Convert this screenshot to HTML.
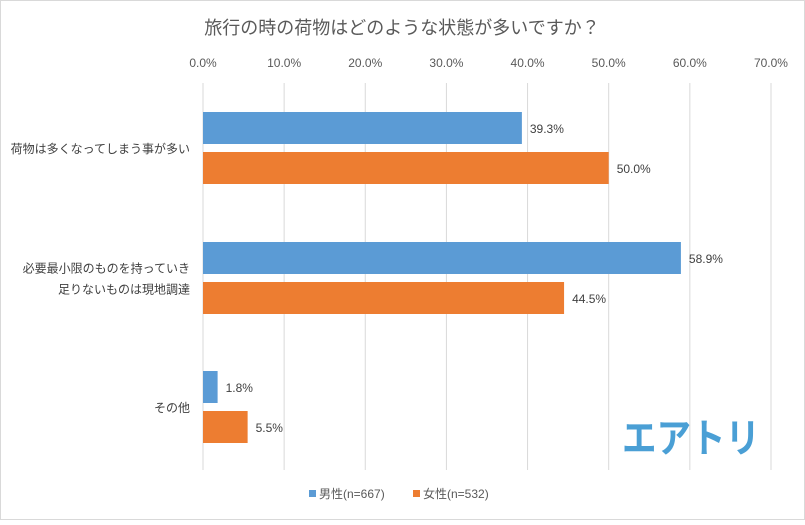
<!DOCTYPE html>
<html><head><meta charset="utf-8"><style>
body{margin:0;background:#fff}
#c{width:805px;height:520px;position:relative;font-family:"Liberation Sans","Noto Sans CJK JP",sans-serif;}
</style></head><body>
<div id="c">
<svg width="805" height="520" id="svg">
<rect x="0.5" y="0.5" width="804" height="519" fill="#fff" stroke="#d9d9d9"/>
<text x="402" y="34" text-anchor="middle" font-size="18" fill="#595959" font-family="Liberation Sans, Noto Sans CJK JP, sans-serif">旅行の時の荷物はどのような状態が多いですか？</text>
<g id="grid"></g><g id="bars"></g>
<text x="622" y="452" font-size="40" font-weight="bold" fill="#4a9fd5" font-family="Noto Sans CJK JP, sans-serif" textLength="138" lengthAdjust="spacingAndGlyphs">エアトリ</text>
<rect x="309" y="490" width="7" height="7" fill="#5b9bd5"/>
<text x="319" y="498" font-size="12" fill="#595959">男性(n=667)</text>
<rect x="413" y="490" width="7" height="7" fill="#ed7d31"/>
<text x="423" y="498" font-size="12" fill="#595959">女性(n=532)</text>
</svg>
</div>
<script>
const categories=[["荷物は多くなってしまう事が多い"],["必要最小限のものを持っていき","足りないものは現地調達"],["その他"]];
const male=[39.3,58.9,1.8];
const female=[50.0,44.5,5.5];
const ticks=[0,10,20,30,40,50,60,70];
const NS="http://www.w3.org/2000/svg";
const x0=203,pxPer=81.14;
const xs=v=>x0+v*pxPer/10;
const grid=document.getElementById('grid'),bars=document.getElementById('bars');
function mk(tag,at,parent,txt){const e=document.createElementNS(NS,tag);for(const k in at)e.setAttribute(k,at[k]);if(txt!=null)e.textContent=txt;parent.appendChild(e);return e;}
ticks.forEach(t=>{
 const l=mk('line',{x1:xs(t),x2:xs(t),y1:83,y2:470,stroke:'#d9d9d9'},grid);
 
 
 const tx=mk('text',{x:xs(t),y:67,'text-anchor':'middle','font-size':12,fill:'#595959'},grid,t.toFixed(1)+'%');
 
 
});
const groupTop=[112,242,371];
categories.forEach((c,i)=>{
 const y=groupTop[i];
 [[male[i],'#5b9bd5',0,'male'],[female[i],'#ed7d31',40,'female']].forEach(([v,col,off,s])=>{
  const r=mk('rect',{x:x0,y:y+off,width:xs(v)-x0,height:32,fill:col},bars);
  
  
  const t=mk('text',{x:xs(v)+8,y:y+off+21,'font-size':12,fill:'#404040'},bars,v.toFixed(1)+'%');
  
  
 });
 const cy=y+36;
 c.forEach((line,j)=>{
  const t=mk('text',{x:190,y:cy+5+(j-(c.length-1)/2)*21,'text-anchor':'end','font-size':12,fill:'#404040'},bars,line);
  
  
 });
});
</script>
</body></html>
